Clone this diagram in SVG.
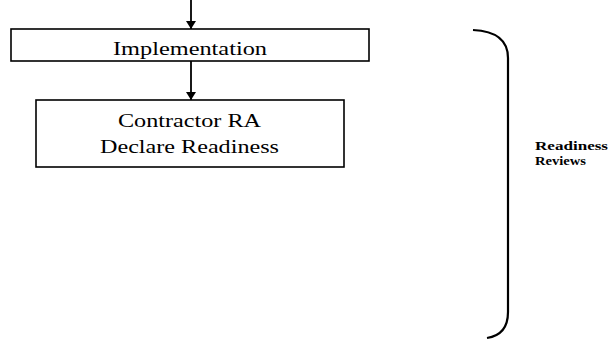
<svg xmlns="http://www.w3.org/2000/svg" width="613" height="345" viewBox="0 0 613 345">
<style>
.box{fill:#fff;stroke:#000;stroke-width:1.6}
.lbl{font-family:"Liberation Serif",serif;font-size:19px;fill:#000}
.side{font-family:"Liberation Serif",serif;font-size:13px;font-weight:bold;fill:#000}
.conn{stroke:#000;stroke-width:1.8;fill:none}
</style>
<defs>
<marker id="ah" markerWidth="10" markerHeight="10" refX="8" refY="5" orient="auto" markerUnits="userSpaceOnUse">
<path d="M0,0 L8,5 L0,10 Z" fill="#000"/>
</marker>
</defs>
<rect width="613" height="345" fill="#fff"/>
<g id="connectors">
<line class="conn" x1="191" y1="0" x2="191" y2="29" marker-end="url(#ah)"/>
<line class="conn" x1="191" y1="61" x2="191" y2="100" marker-end="url(#ah)"/>
</g>
<g id="implementation">
<rect class="box" x="11" y="29" width="358" height="32"/>
<text class="lbl" x="113" y="55" textLength="154" lengthAdjust="spacingAndGlyphs">Implementation</text>
</g>
<g id="contractor">
<rect class="box" x="36" y="100" width="308" height="67"/>
<text class="lbl" x="118" y="127" textLength="143" lengthAdjust="spacingAndGlyphs">Contractor RA</text>
<text class="lbl" x="100" y="153" textLength="179" lengthAdjust="spacingAndGlyphs">Declare Readiness</text>
</g>
<g id="bracket">
<path d="M473,30 C495,31 508,40 508,58 L508,312 C508,328 500,336 487,338" fill="none" stroke="#000" stroke-width="2.2"/>
<text class="side" x="535" y="150" textLength="73" lengthAdjust="spacingAndGlyphs">Readiness</text>
<text class="side" x="535" y="165" textLength="51" lengthAdjust="spacingAndGlyphs">Reviews</text>
</g>
</svg>
